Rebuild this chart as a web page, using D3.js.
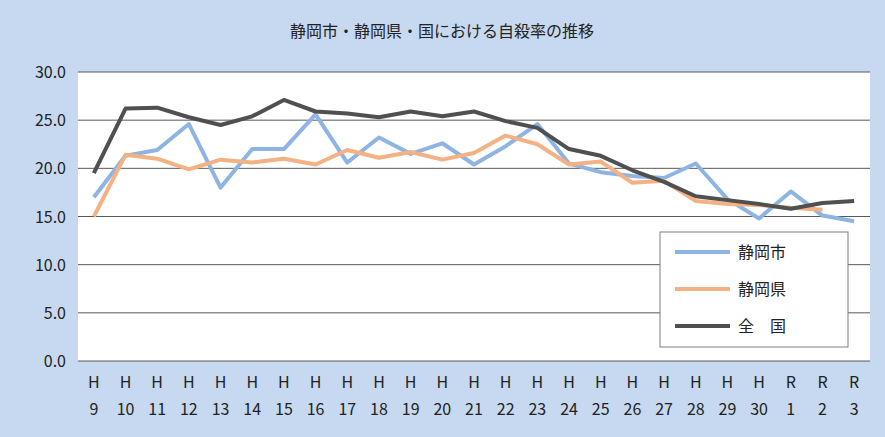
<!DOCTYPE html><html><head><meta charset="utf-8"><script src="https://cdn.jsdelivr.net/npm/d3@7"></script>
<style>body{margin:0;background:#c6d9f0;font-family:"Noto Sans CJK JP","Noto Sans",sans-serif}</style></head><body><svg width="885" height="437"></svg>
<script>
const categories=["H9","H10","H11","H12","H13","H14","H15","H16","H17","H18","H19","H20","H21","H22","H23","H24","H25","H26","H27","H28","H29","H30","R1","R2","R3"];
const city=[17.0,21.3,21.9,24.6,18.0,22.0,22.0,25.6,20.6,23.2,21.5,22.6,20.4,22.3,24.6,20.5,19.6,19.2,19.0,20.5,16.8,14.8,17.6,15.1,14.5];
const pref=[15.0,21.4,21.0,19.9,20.9,20.6,21.0,20.4,21.9,21.1,21.7,20.9,21.6,23.4,22.5,20.4,20.7,18.5,18.7,16.6,16.3,16.2,15.9,15.7,null];
const nation=[19.5,26.2,26.3,25.3,24.5,25.4,27.1,25.9,25.7,25.3,25.9,25.4,25.9,24.9,24.2,22.0,21.3,19.8,18.6,17.1,16.7,16.3,15.8,16.4,16.6];
const yTicks=[0,5,10,15,20,25,30];
const series=[{name:"静岡市",data:city,color:"#8db4e2"},{name:"静岡県",data:pref,color:"#f4b183"},{name:"全　国",data:nation,color:"#505050"}];
const svg=d3.select("svg");
const L=78,R=870,T=72,B=361;
svg.append("rect").attr("x",L).attr("y",T).attr("width",R-L).attr("height",B-T).attr("fill","#fff");
const x=d3.scalePoint().domain(categories).range([L,R]).padding(0.5);
const y=d3.scaleLinear().domain([0,30]).range([B,T]);
svg.append("g").selectAll("line").data(yTicks).join("line").attr("x1",L).attr("x2",R).attr("y1",d=>y(d)).attr("y2",d=>y(d)).attr("stroke","#595959").attr("stroke-width",1);
svg.append("g").selectAll("text").data(yTicks).join("text").attr("x",L-12).attr("y",d=>y(d)+6).attr("text-anchor","end").attr("font-size",16).attr("fill","#222").text(d=>d.toFixed(1));
const lab=svg.append("g").selectAll("g").data(categories).join("g");
lab.append("text").attr("x",d=>x(d)).attr("y",388).attr("text-anchor","middle").attr("font-size",16).attr("fill","#222").text(d=>d[0]);
lab.append("text").attr("x",d=>x(d)).attr("y",415).attr("text-anchor","middle").attr("font-size",16).attr("fill","#222").text(d=>d.slice(1));
const line=d3.line().defined(d=>d!=null).x((d,i)=>x(categories[i])).y(d=>y(d));
series.forEach(s=>svg.append("path").attr("d",line(s.data)).attr("fill","none").attr("stroke",s.color).attr("stroke-width",4).attr("stroke-linejoin","round"));
svg.append("text").attr("x",442).attr("y",37).attr("text-anchor","middle").attr("font-size",16).attr("fill","#222").text("静岡市・静岡県・国における自殺率の推移");
const lg=svg.append("g");
lg.append("rect").attr("x",660).attr("y",232).attr("width",188).attr("height",115).attr("fill","#fff").attr("stroke","#7f7f7f");
series.forEach((s,i)=>{const yy=252+i*37;
lg.append("line").attr("x1",675).attr("x2",730).attr("y1",yy).attr("y2",yy).attr("stroke",s.color).attr("stroke-width",4);
lg.append("text").attr("x",738).attr("y",yy+6).attr("font-size",16).attr("fill","#222").text(s.name);});
</script></body></html>
